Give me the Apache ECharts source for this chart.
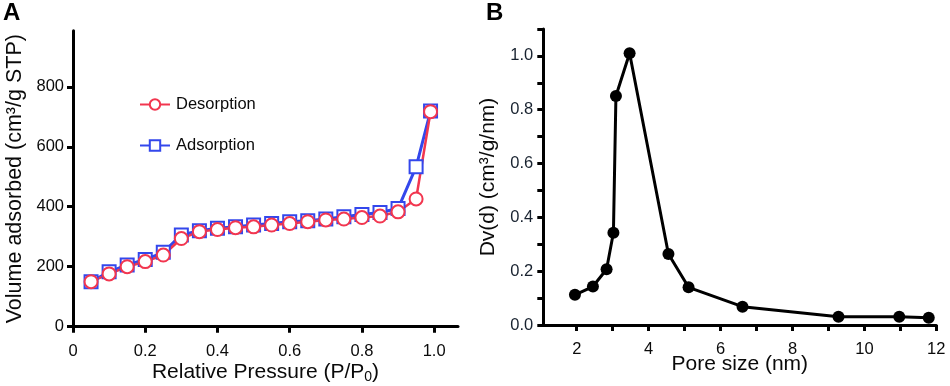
<!DOCTYPE html>
<html>
<head>
<meta charset="utf-8">
<script src="https://cdn.jsdelivr.net/npm/echarts@6/dist/echarts.min.js"></script>
<style>
html,body{margin:0;padding:0;background:#fff;}
#chart{width:950px;height:386px;}
</style>
</head>
<body>
<div id="chart"></div>
<script>
// Panel A: N2 isotherm
var pressure = [0.05,0.10,0.15,0.20,0.25,0.30,0.35,0.40,0.45,0.50,0.55,0.60,0.65,0.70,0.75,0.80,0.85,0.90,0.95,0.99];
var desorption = [150,176,200,217,239,294,317,324,330,333,339,344,350,356,359,364,369,383,426,717];
var adsorption = [150,183,206,224,248,306,320,328,333,339,344,350,353,359,367,374,381,394,533,719];
var aXTicks = [0,0.2,0.4,0.6,0.8,1.0];
var aYTicks = [0,200,400,600,800];

// Panel B: pore size distribution
var poreSize = [1.95,2.45,2.83,3.02,3.09,3.47,4.55,5.11,6.61,9.28,10.97,11.79];
var dvd = [0.112,0.143,0.207,0.343,0.851,1.01,0.264,0.140,0.068,0.031,0.031,0.027];
var bXTicks = [2,3,4,5,6,7,8,9,10,11,12];
var bXLabels = [2,4,6,8,10,12];
var bYTicks = [0,0.1,0.2,0.3,0.4,0.5,0.6,0.7,0.8,0.9,1.0,1.1];
var bYLabels = [0,0.2,0.4,0.6,0.8,1.0];

var RED = '#f2364f', BLUE = '#3347ec';
var FONT = 'Liberation Sans, Arial, sans-serif';
var TXT = '#0a0a0a';
function pairs(xs, ys){ return xs.map(function(x,i){ return [x, ys[i]]; }); }

function axisLine(){ return {show:true, onZero:false, lineStyle:{color:'#000', width:3, opacity:1}}; }
function axisTick(vals){ return {show:true, inside:false, length:6, lineStyle:{color:'#000', width:3, opacity:1}, customValues: vals}; }

var chart = echarts.init(document.getElementById('chart'), null, {renderer:'canvas'});
chart.setOption({
  animation:false,
  backgroundColor:'#fff',
  textStyle:{fontFamily:FONT},
  graphic:[
    {type:'text', left:3, top:1, style:{text:'A', font:'bold 24px '+FONT, fill:'#000'}},
    {type:'text', left:486, top:1, style:{text:'B', font:'bold 24px '+FONT, fill:'#000'}}
  ],
  legend:{
    orient:'vertical', left:134, top:91, itemWidth:30, itemHeight:13, itemGap:24,
    data:['Desorption','Adsorption'],
    textStyle:{fontSize:16.5, color:TXT, fontFamily:FONT, padding:[0,0,0,1]}
  },
  grid:[
    {left:73, top:30.7, width:385, height:296, containLabel:false, outerBoundsMode:'none'},
    {left:543.3, top:29, width:393, height:296, containLabel:false, outerBoundsMode:'none'}
  ],
  xAxis:[
    {gridIndex:0, type:'value', min:0, max:1.066,
     axisLine:axisLine(), axisTick:axisTick(aXTicks), splitLine:{show:false},
     axisLabel:{customValues:aXTicks, margin:16.5, fontSize:16.5, color:TXT, fontFamily:FONT,
       formatter:function(v){ return v===0 ? '0' : v.toFixed(1); }},
     name:'Relative Pressure (P/P{sub|0})', nameLocation:'middle', nameGap:34, nameMoveOverlap:false,
     nameTextStyle:{fontSize:21, color:TXT, fontFamily:FONT,
       rich:{sub:{fontSize:14, verticalAlign:'bottom', padding:[9,0,0,0], fontFamily:FONT, color:TXT}}}},
    {gridIndex:1, type:'value', min:1.07, max:12,
     axisLine:axisLine(), axisTick:axisTick(bXTicks), splitLine:{show:false},
     axisLabel:{customValues:bXLabels, margin:15.5, fontSize:16.5, color:TXT, fontFamily:FONT},
     name:'Pore size (nm)', nameLocation:'middle', nameGap:28.5, nameMoveOverlap:false,
     nameTextStyle:{fontSize:21, color:TXT, fontFamily:FONT}}
  ],
  yAxis:[
    {gridIndex:0, type:'value', min:0, max:987,
     axisLine:axisLine(), axisTick:axisTick(aYTicks), splitLine:{show:false},
     axisLabel:{customValues:aYTicks, margin:9, fontSize:16.5, color:TXT, fontFamily:FONT},
     name:'Volume adsorbed (cm³/g STP)', nameLocation:'middle', nameGap:47, nameMoveOverlap:false,
     nameTextStyle:{fontSize:21.5, color:TXT, fontFamily:FONT}},
    {gridIndex:1, type:'value', min:0, max:1.1,
     axisLine:axisLine(), axisTick:axisTick(bYTicks), splitLine:{show:false},
     axisLabel:{customValues:bYLabels, margin:10, fontSize:16.5, color:'#18222f', fontFamily:FONT,
       formatter:function(v){ return v.toFixed(1); }},
     name:'Dv(d) (cm³/g/nm)', nameLocation:'middle', nameGap:45, nameMoveOverlap:false,
     nameTextStyle:{fontSize:21, color:TXT, fontFamily:FONT}}
  ],
  series:[
    {name:'Adsorption', type:'line', xAxisIndex:0, yAxisIndex:0, data:pairs(pressure, adsorption),
     symbol:'emptyRect', symbolSize:13, color:BLUE,
     lineStyle:{color:BLUE, width:3}, itemStyle:{color:BLUE, borderColor:BLUE, borderWidth:3}},
    {name:'Desorption', type:'line', xAxisIndex:0, yAxisIndex:0, data:pairs(pressure, desorption),
     symbol:'emptyCircle', symbolSize:13, color:RED,
     lineStyle:{color:RED, width:2.5}, itemStyle:{color:RED, borderColor:RED, borderWidth:2.5}},
    {name:'PSD', type:'line', xAxisIndex:1, yAxisIndex:1, data:pairs(poreSize, dvd),
     symbol:'circle', symbolSize:12, color:'#000',
     lineStyle:{color:'#000', width:3}, itemStyle:{color:'#000'}}
  ]
});
</script>
</body>
</html>
